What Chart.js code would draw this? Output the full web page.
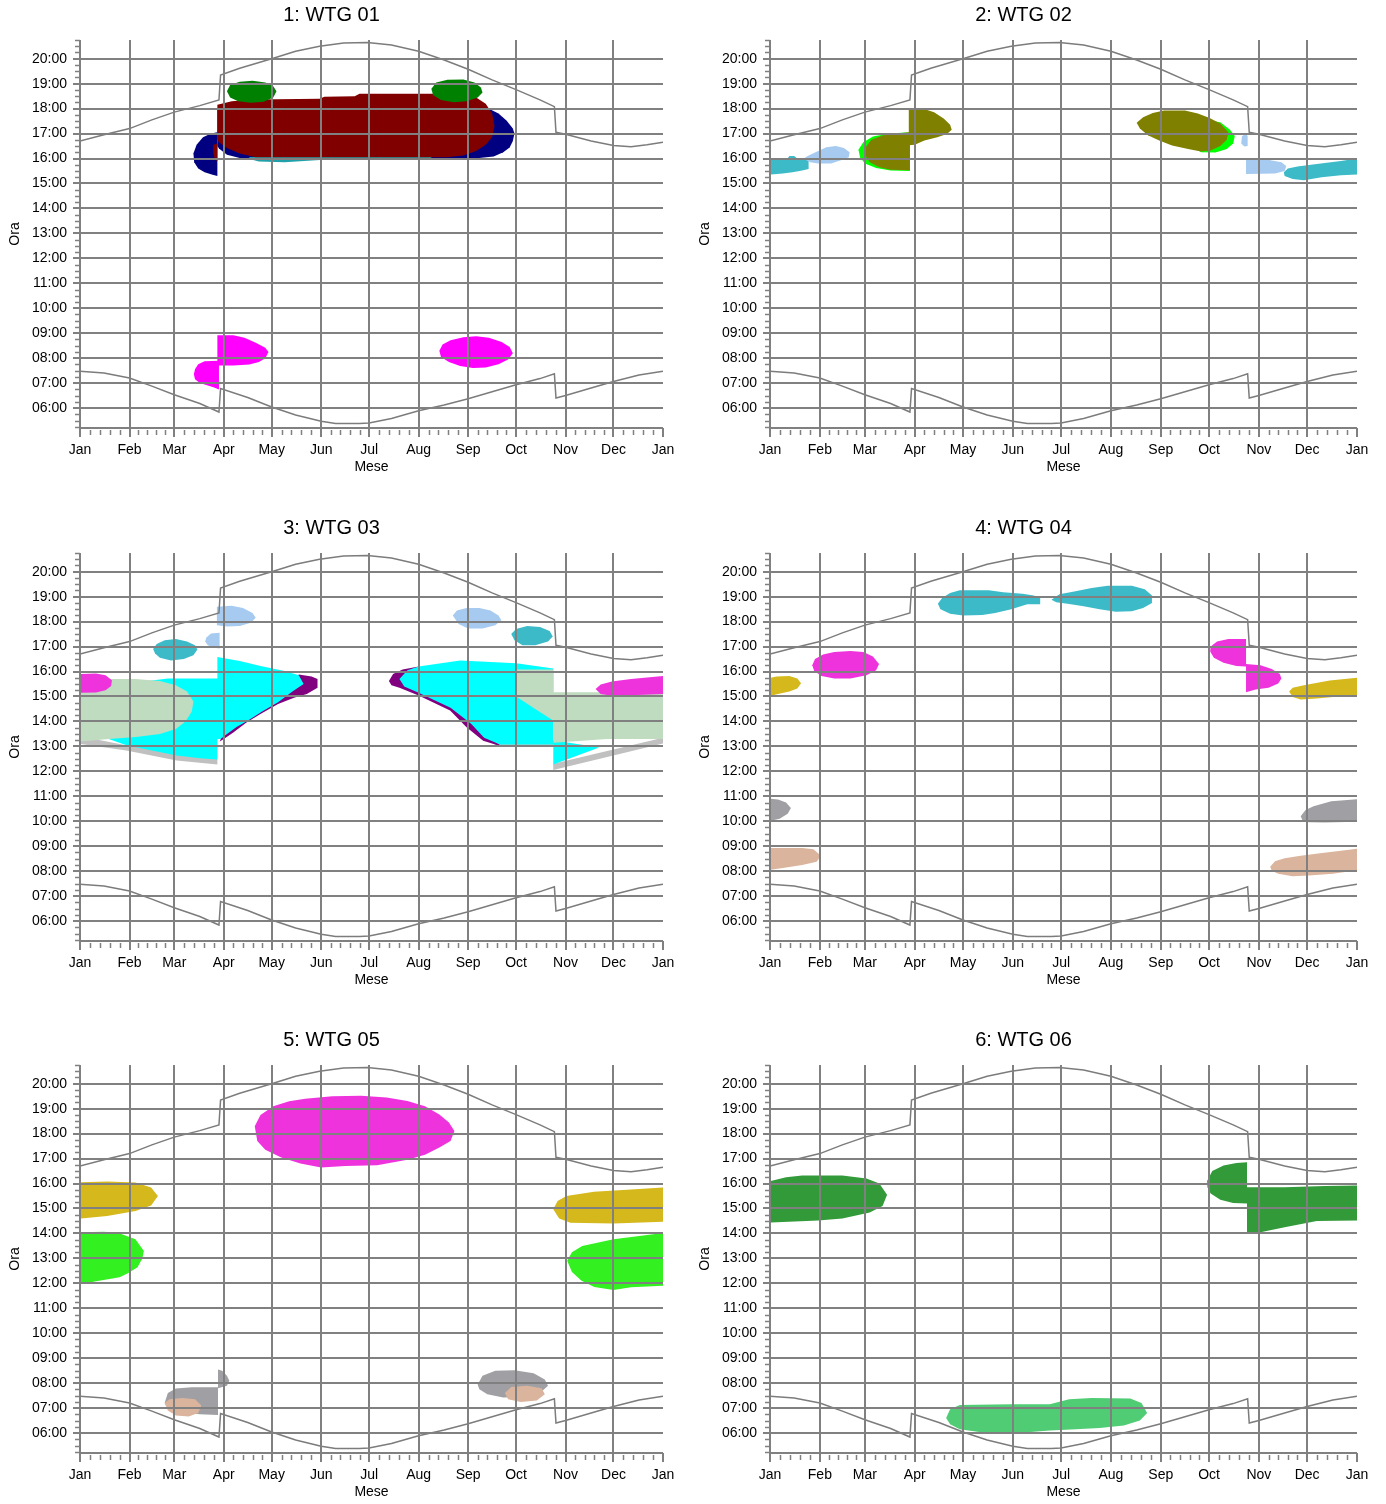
<!DOCTYPE html>
<html>
<head>
<meta charset="utf-8">
<script src="https://cdn.jsdelivr.net/npm/chart.js@4.4.1/dist/chart.umd.min.js"></script>
<style>
  html, body { margin: 0; padding: 0; background: #fff; }
  body { position: relative; width: 1386px; height: 1504px; overflow: hidden; }
  .panel { position: absolute; }
</style>
</head>
<body>
<script>
// axes
const monthLabels = ["Jan", "Feb", "Mar", "Apr", "May", "Jun", "Jul", "Aug", "Sep", "Oct", "Nov", "Dec", "Jan"];
const monthStarts = [0, 31, 59, 90, 120, 151, 181, 212, 243, 273, 304, 334, 365];
const hourTicks = [6, 7, 8, 9, 10, 11, 12, 13, 14, 15, 16, 17, 18, 19, 20];

// sunset / sunrise, [day of year, hour]
const sunset = [[0,16.70],[15,16.95],[31,17.20],[45,17.55],[59,17.86],[75,18.12],[87,18.35],[88,19.35],[100,19.62],[120,20.0],[135,20.3],[150,20.5],[165,20.63],[180,20.65],[195,20.55],[212,20.3],[228,19.95],[243,19.58],[258,19.15],[273,18.76],[288,18.35],[297,18.08],[298,17.05],[304,16.97],[320,16.7],[334,16.52],[345,16.47],[355,16.55],[365,16.65]];
const sunrise = [[0,7.47],[15,7.40],[31,7.20],[45,6.88],[59,6.53],[75,6.18],[87,5.84],[88,6.78],[105,6.42],[120,6.04],[135,5.72],[151,5.47],[160,5.38],[175,5.38],[181,5.40],[195,5.58],[212,5.89],[228,6.12],[243,6.37],[258,6.65],[273,6.93],[288,7.18],[297,7.37],[298,6.40],[304,6.50],[320,6.80],[334,7.06],[350,7.32],[365,7.47]];

// WTG 01
const w1NavyLeft = [[86,17.05],[82,17.0],[77,16.85],[73,16.55],[71,16.2],[71.5,15.85],[74,15.6],[78,15.45],[83,15.35],[86,15.3]];
const w1NavyMain = [[86,18.0],[95,18.15],[110,18.25],[200,18.3],[240,18.25],[252,18.12],[262,17.8],[267,17.52],[271,17.2],[272,17.0],[271,16.7],[269,16.44],[265,16.25],[259,16.08],[250,16.02],[238,16.0],[108,15.98],[100,16.02],[92,16.15],[87,16.4],[86,16.5]];
const w1Teal = [[106,16.06],[220,16.1],[220,15.98],[160,15.98],[128,15.85],[112,15.88],[106,15.98]];
const w1Red = [[86,18.15],[95,18.3],[110,18.37],[150,18.4],[153,18.48],[172,18.5],[175,18.6],[240,18.6],[248,18.45],[254,18.2],[258,17.8],[259.5,17.3],[258,16.85],[254,16.55],[248,16.3],[240,16.12],[230,16.05],[110,16.05],[100,16.2],[92,16.42],[87,16.65],[86,16.75]];
const w1RedSliver = [[83.5,16.55],[86,16.6],[86,15.9],[84.5,15.95],[83.5,16.2]];
const w1GreenA = [[92,18.7],[94,18.95],[100,19.08],[108,19.12],[116,19.05],[121,18.9],[123,18.7],[121,18.45],[115,18.28],[107,18.24],[99,18.3],[94,18.45]];
const w1GreenB = [[220,18.8],[223,19.05],[230,19.16],[240,19.17],[247,19.05],[251,18.85],[252,18.65],[249,18.45],[242,18.3],[234,18.26],[226,18.35],[221,18.55]];
const w1MagA = [[86,8.92],[96,8.92],[103,8.82],[110,8.62],[116,8.42],[118,8.25],[116,8.0],[112,7.85],[106,7.74],[96,7.7],[86,7.7]];
const w1MagB = [[87,7.9],[78,7.88],[74,7.75],[72,7.55],[71.3,7.35],[72,7.15],[75,7.0],[80,6.9],[84,6.82],[87,6.74]];
const w1MagC = [[225,8.3],[227,8.55],[232,8.72],[240,8.84],[248,8.88],[256,8.82],[264,8.65],[269,8.45],[271,8.2],[268,7.95],[262,7.75],[254,7.62],[246,7.6],[238,7.68],[231,7.85],[226,8.05]];

// WTG 02
const w2TealL = [[0.5,15.95],[0.5,15.36],[8,15.4],[14,15.45],[20,15.52],[24,15.58],[24,16.0],[17,16.0],[15,16.1],[12,16.1],[11,16.0]];
const w2BlueL = [[22,16.05],[25,16.15],[30,16.3],[35,16.45],[41,16.5],[46,16.42],[49.5,16.25],[49,16.05],[45,15.95],[38,15.8],[30,15.8],[25,15.85],[22,15.95]];
const w2LimeL = [[87,17.05],[74,17.0],[64,16.88],[58,16.65],[55,16.35],[56,16.05],[59,15.8],[66,15.62],[75,15.52],[87,15.5]];
const w2OliveL = [[87,17.05],[78,17.0],[70,16.92],[63,16.75],[59.5,16.45],[59.5,16.1],[62,15.85],[68,15.65],[75,15.55],[87,15.53]];
const w2OliveM = [[86.3,18.02],[95,18.0],[102,17.85],[108,17.6],[112,17.35],[113,17.15],[110,16.98],[104,16.85],[96,16.72],[90,16.55],[86.3,16.53]];
const w2LimeR = [[265,17.6],[280,17.45],[286,17.15],[289,16.9],[288,16.6],[284,16.38],[277,16.24],[268,16.25],[262,16.5]];
const w2OliveR = [[228,17.43],[232,17.65],[238,17.82],[245,17.92],[258,17.92],[266,17.8],[273,17.63],[280,17.4],[285,17.05],[284,16.75],[280,16.5],[274,16.32],[268,16.28],[260,16.38],[250,16.52],[242,16.72],[235,16.93],[230,17.2]];
const w2BlueDot = [[293.5,16.9],[296,16.98],[297,16.9],[297,16.5],[295,16.48],[293,16.6]];
const w2BlueR = [[296,16.0],[305,16.02],[312,15.92],[318,15.85],[321,15.7],[320,15.5],[314,15.4],[296,15.38]];
const w2TealR = [[319.5,15.45],[322,15.6],[328,15.68],[340,15.78],[355,15.9],[365,16.0],[365,15.36],[355,15.33],[343,15.25],[332,15.13],[325,15.18],[320,15.3]];

// WTG 03
const w3GrayL = [[0.5,13.4],[29,13.05],[60.5,12.7],[86,12.5],[86,12.27],[60.5,12.43],[29,12.83],[0.5,13.1]];
const w3PurpleL = [[137,15.88],[145,15.8],[148.7,15.7],[148.7,15.35],[142,15.1],[134,14.95],[124,14.7],[113,14.3],[104,13.95],[96,13.56],[90,13.3],[87.5,13.2],[90,13.6],[120,15.0],[132,15.6]];
const w3CyanL = [[18,13.3],[29,13.05],[45,12.83],[60.5,12.63],[75,12.52],[86,12.47],[86,13.3],[88,13.3],[92,13.5],[98,13.78],[105,14.03],[114,14.4],[124,14.77],[133,15.2],[140,15.5],[137,15.85],[128,16.02],[113,16.22],[100,16.42],[86,16.58],[86,15.72],[55,15.72],[40,15.6],[25,15.3],[18,14.5]];
const w3SageL = [[0.5,15.65],[20,15.7],[35,15.7],[50,15.62],[60,15.45],[67,15.2],[71,14.8],[70,14.4],[66,14.0],[60,13.7],[50,13.5],[35,13.38],[18,13.3],[0.5,13.2]];
const w3PinkL = [[0.5,15.9],[10,15.92],[16,15.85],[20,15.65],[19.5,15.42],[16,15.25],[10,15.16],[0.5,15.15]];
const w3TealL = [[45.8,16.9],[48,17.1],[53,17.25],[60,17.3],[67,17.2],[72,17.05],[73.5,16.88],[71,16.65],[65,16.5],[57,16.44],[50,16.55],[47,16.72]];
const w3BlueDot = [[87.4,17.55],[82,17.52],[79,17.35],[78.4,17.2],[80,17.05],[84,16.95],[87.4,16.92]];
const w3BlueL = [[85.7,18.6],[95,18.64],[102,18.55],[108,18.35],[110,18.15],[107,17.95],[100,17.82],[92,17.8],[85.7,17.85]];
const w3GrayR1 = [[258,13.15],[296.5,13.15],[296.5,12.98],[262,12.97]];
const w3GrayR2 = [[296.3,12.3],[365,13.35],[365,13.12],[296.3,12.05]];
const w3PurpleR = [[193.4,15.62],[196,15.9],[202,16.08],[212,16.2],[230,14.7],[262,13.1],[265,12.97],[252.4,13.23],[242,13.77],[231.7,14.44],[212,15.04],[200,15.35],[195,15.45]];
const w3CyanR = [[200,15.7],[205,16.05],[212,16.2],[238,16.44],[273,16.33],[296.3,16.12],[296.3,13.25],[325,12.95],[296.3,12.27],[296.3,13.08],[263,13.08],[253,13.35],[245,13.9],[232,14.55],[212,15.15],[203,15.4]];
const w3SageR = [[273,16.08],[296.5,16.08],[296.5,15.17],[365,15.17],[365,13.3],[330,13.3],[296.5,13.15],[296.5,14.03],[285,14.5],[273,15.0]];
const w3PinkR = [[322.8,15.3],[326,15.48],[333,15.6],[345,15.7],[365,15.82],[365,15.1],[345,15.05],[333,15.03],[326,15.1]];
const w3BlueR = [[233.4,18.25],[236,18.45],[242,18.55],[250,18.55],[257,18.45],[262,18.25],[263.8,18.05],[260,17.85],[252,17.72],[243,17.72],[237,17.9]];
const w3TealR = [[270,17.5],[273,17.7],[280,17.82],[288,17.78],[294,17.62],[296,17.4],[293,17.2],[285,17.05],[277,17.05],[272,17.25]];

// WTG 04
const w4YellowL = [[0.5,15.75],[4,15.8],[12,15.82],[17,15.72],[19.3,15.53],[17,15.32],[12,15.2],[5,15.1],[0.5,15.03]];
const w4PinkL = [[26.3,16.25],[28,16.5],[33,16.68],[40,16.78],[50,16.82],[58,16.78],[64,16.6],[67.8,16.3],[66,16.05],[60,15.85],[50,15.72],[40,15.72],[32,15.82],[27.5,16.02]];
const w4TealA = [[104.4,18.72],[107,18.95],[112,19.15],[118,19.26],[136,19.26],[145,19.18],[157,19.12],[164,19.05],[168,18.95],[168,18.7],[160,18.7],[150,18.5],[140,18.35],[132,18.27],[120,18.25],[112,18.32],[106,18.5]];
const w4TealB = [[175,18.88],[180,19.1],[190,19.22],[200,19.35],[210,19.44],[225,19.44],[233,19.3],[237.5,19.05],[237.5,18.75],[232,18.55],[225,18.42],[215,18.4],[205,18.5],[195,18.62],[185,18.72],[178,18.78]];
const w4PinkA = [[296,17.3],[285,17.3],[278,17.2],[274,17.0],[273.7,16.8],[276,16.55],[282,16.35],[290,16.22],[296,16.2]];
const w4PinkB = [[296,16.3],[305,16.25],[312,16.1],[317,15.9],[318,15.72],[316,15.52],[310,15.35],[302,15.28],[296,15.17]];
const w4YellowR = [[322.8,15.2],[325,15.35],[332,15.45],[348,15.64],[365,15.75],[365,15.0],[350,14.98],[340,14.92],[330,14.88],[325,14.98]];
const w4GrayL = [[0.5,10.9],[5,10.87],[10,10.75],[13,10.53],[11,10.3],[6,10.1],[0.5,10.02]];
const w4TanL = [[0.5,8.93],[20,8.93],[27,8.88],[31.7,8.62],[29,8.38],[20,8.25],[10,8.15],[0.5,8.06]];
const w4GrayR = [[330,10.2],[333,10.45],[338,10.6],[349,10.8],[365,10.88],[365,9.98],[345,9.95],[335,9.96],[331,10.05]];
const w4TanR = [[311,8.18],[314,8.4],[320,8.52],[330,8.62],[342,8.72],[355,8.82],[365,8.9],[365,8.04],[350,7.9],[335,7.83],[325,7.8],[316,7.9],[312,8.02]];

// WTG 05
const w5Pink = [[109.4,18.3],[113,18.75],[121,19.1],[131,19.3],[141,19.4],[158,19.5],[176,19.52],[192,19.45],[205,19.31],[216,19.1],[225,18.77],[231,18.45],[234.4,18.1],[232,17.7],[225,17.44],[216,17.15],[205,16.95],[186,16.73],[166,16.7],[151,16.64],[138,16.8],[126,17.04],[116,17.35],[111,17.7]];
const w5YellowL = [[0.5,16.05],[17,16.08],[34.7,16.04],[44.5,15.84],[48.8,15.5],[44.5,15.12],[34.7,14.9],[17,14.7],[0.5,14.6]];
const w5GreenL = [[0.5,14.05],[15,14.07],[25,14.0],[34.7,13.77],[40,13.3],[39,13.0],[36,12.64],[30,12.4],[24.8,12.24],[12,12.1],[0.5,11.97]];
const w5YellowR = [[296.3,14.97],[299,15.3],[304.5,15.5],[321.8,15.67],[345,15.76],[365,15.84],[365,14.47],[334,14.4],[307,14.43],[300,14.6]];
const w5GreenR = [[305,12.9],[308,13.25],[314.4,13.5],[334,13.77],[365,14.02],[365,11.9],[345,11.84],[334,11.73],[322,11.85],[314,12.1],[308,12.45]];
const w5GrayA = [[53,7.2],[55,7.6],[60,7.78],[70,7.84],[86.4,7.84],[86.4,6.72],[75,6.75],[62,6.85],[55,7.0]];
const w5TanA = [[53,7.2],[56,7.35],[64,7.4],[72,7.35],[76,7.1],[74,6.8],[68,6.66],[60,6.7],[55,6.9]];
const w5GrayDot = [[86.4,8.55],[89,8.5],[92,8.3],[93.5,8.1],[92,7.9],[86.4,7.8]];
const w5GrayB = [[249,7.95],[252,8.3],[260,8.5],[272,8.52],[284,8.4],[291,8.15],[293,7.9],[288,7.6],[278,7.45],[265,7.42],[255,7.55],[250,7.75]];
const w5TanB = [[266,7.6],[270,7.85],[280,7.9],[289,7.8],[291,7.55],[286,7.3],[276,7.24],[268,7.35]];

// WTG 06
const w6GreenL = [[0.5,16.1],[10,16.25],[20,16.32],[45,16.32],[60,16.2],[68,16.0],[72.8,15.55],[70,15.1],[62,14.84],[45,14.6],[30,14.52],[0.5,14.44]];
const w6GreenR = [[271.8,16.1],[275,16.5],[282,16.72],[290,16.82],[296.6,16.85],[296.6,15.85],[320,15.85],[345,15.9],[365,15.92],[365,14.52],[340,14.5],[320,14.25],[305,14.05],[296.6,14.0],[296.6,15.2],[288,15.22],[280,15.35],[274,15.6],[272,15.85]];
const w6LightGreen = [[109.5,6.6],[112,6.95],[118,7.12],[150,7.15],[174,7.15],[186,7.35],[200,7.4],[224,7.38],[231,7.2],[234.5,6.8],[230,6.5],[220,6.3],[205,6.2],[190,6.15],[174,6.1],[162,6.04],[130,6.04],[118,6.15],[112,6.35]];

const panels = [
    { title: "1: WTG 01", col: 0, row: 0, blobs: [
        [w1NavyLeft, "#000080"], [w1NavyMain, "#000080"], [w1Teal, "#20a0a8"], [w1Red, "#800000"],
        [w1RedSliver, "#800000"], [w1GreenA, "#008000"], [w1GreenB, "#008000"],
        [w1MagA, "#ff00ff"], [w1MagB, "#ff00ff"], [w1MagC, "#ff00ff"]] },
    { title: "2: WTG 02", col: 1, row: 0, blobs: [
        [w2TealL, "#3cbac8"], [w2BlueL, "#a6caf0"], [w2LimeL, "#00ff00"], [w2OliveL, "#808000"],
        [w2OliveM, "#808000"], [w2LimeR, "#00ff00"], [w2OliveR, "#808000"],
        [w2BlueDot, "#a6caf0"], [w2BlueR, "#a6caf0"], [w2TealR, "#3cbac8"]] },
    { title: "3: WTG 03", col: 0, row: 1, blobs: [
        [w3GrayL, "#c0c0c0"], [w3PurpleL, "#800080"], [w3CyanL, "#00ffff"], [w3SageL, "#c0dcc0"],
        [w3PinkL, "#ee33dd"], [w3TealL, "#3cbac8"], [w3BlueDot, "#a6caf0"], [w3BlueL, "#a6caf0"],
        [w3GrayR1, "#c0c0c0"], [w3GrayR2, "#c0c0c0"], [w3PurpleR, "#800080"], [w3CyanR, "#00ffff"],
        [w3SageR, "#c0dcc0"], [w3PinkR, "#ee33dd"], [w3BlueR, "#a6caf0"], [w3TealR, "#3cbac8"]] },
    { title: "4: WTG 04", col: 1, row: 1, blobs: [
        [w4YellowL, "#d4b81c"], [w4PinkL, "#ee33dd"], [w4TealA, "#3cbac8"], [w4TealB, "#3cbac8"],
        [w4PinkA, "#ee33dd"], [w4PinkB, "#ee33dd"], [w4YellowR, "#d4b81c"],
        [w4GrayL, "#a0a0a4"], [w4TanL, "#dab49c"], [w4GrayR, "#a0a0a4"], [w4TanR, "#dab49c"]] },
    { title: "5: WTG 05", col: 0, row: 2, blobs: [
        [w5Pink, "#ee33dd"], [w5YellowL, "#d4b81c"], [w5GreenL, "#33f020"], [w5YellowR, "#d4b81c"],
        [w5GreenR, "#33f020"], [w5GrayA, "#a0a0a4"], [w5TanA, "#dab49c"], [w5GrayDot, "#a0a0a4"],
        [w5GrayB, "#a0a0a4"], [w5TanB, "#dab49c"]] },
    { title: "6: WTG 06", col: 1, row: 2, blobs: [
        [w6GreenL, "#339a3a"], [w6GreenR, "#339a3a"], [w6LightGreen, "#50cc74"]] }
];

const fontFamily = "'Liberation Sans', Arial, sans-serif";
const gridColor = "#808080";

// grid, axes and ticks drawn over the shaded areas, as in the original
const gridOnTop = {
    id: "gridOnTop",
    afterDatasetsDraw(chart) {
        const { ctx, chartArea: a, scales: { x, y } } = chart;
        ctx.save();
        ctx.strokeStyle = gridColor;
        ctx.lineWidth = 2;
        ctx.beginPath();
        monthStarts.forEach((d, i) => {
            const px = Math.round(x.getPixelForValue(d));
            ctx.moveTo(px, i === monthStarts.length - 1 ? a.bottom : a.top);
            ctx.lineTo(px, a.bottom + 9);
        });
        hourTicks.forEach(h => {
            const py = Math.round(y.getPixelForValue(h));
            ctx.moveTo(a.left - 7, py);
            ctx.lineTo(a.right, py);
        });
        ctx.moveTo(a.left, a.top);
        ctx.lineTo(a.left, a.bottom);
        ctx.moveTo(a.left, a.bottom);
        ctx.lineTo(a.right, a.bottom);
        ctx.stroke();

        ctx.lineWidth = 1.5;
        ctx.beginPath();
        for (let i = 0; i < monthStarts.length - 1; i++) {
            for (let k = 1; k < 5; k++) {
                const d = monthStarts[i] + (monthStarts[i + 1] - monthStarts[i]) * k / 5;
                const px = Math.round(x.getPixelForValue(d)) + 0.5;
                ctx.moveTo(px, a.bottom + 2);
                ctx.lineTo(px, a.bottom + 7);
            }
        }
        for (let q = Math.ceil(y.min * 4); q <= Math.floor(y.max * 4); q++) {
            if (q % 4 === 0) continue;
            const py = Math.round(y.getPixelForValue(q / 4)) + 0.5;
            ctx.moveTo(a.left - 5, py);
            ctx.lineTo(a.left, py);
        }
        ctx.stroke();
        ctx.restore();
    }
};

const toPoints = arr => arr.map(p => ({ x: p[0], y: p[1] }));

panels.forEach(panel => {
    const div = document.createElement("div");
    div.className = "panel";
    div.style.left = (panel.col === 0 ? 0 : 690) + "px";
    div.style.top = [0, 513, 1025][panel.row] + "px";
    const canvas = document.createElement("canvas");
    canvas.width = 693;
    canvas.height = 480;
    div.appendChild(canvas);
    document.body.appendChild(div);

    const datasets = [
        { data: toPoints(sunset), borderColor: "#7c7c7c", borderWidth: 1.5, pointRadius: 0, fill: false, order: 0 },
        { data: toPoints(sunrise), borderColor: "#7c7c7c", borderWidth: 1.5, pointRadius: 0, fill: false, order: 0 }
    ];
    panel.blobs.forEach(([shape, color], i) => {
        datasets.push({
            data: toPoints(shape),
            borderWidth: 0,
            borderColor: color,
            backgroundColor: color,
            pointRadius: 0,
            fill: "shape",
            order: 1000 - i
        });
    });

    new Chart(canvas, {
        type: "line",
        data: { datasets },
        options: {
            responsive: false,
            animation: false,
            events: [],
            layout: { padding: { left: 0, right: panel.col === 0 ? 30 : 26, top: 0, bottom: 0 } },
            plugins: {
                legend: { display: false },
                tooltip: { enabled: false },
                title: {
                    display: true,
                    text: panel.title,
                    color: "#000",
                    font: { family: fontFamily, size: 20, weight: "normal" },
                    padding: { top: 3, bottom: 13 }
                }
            },
            scales: {
                x: {
                    type: "linear",
                    min: 0,
                    max: 365,
                    grid: { display: false, drawTicks: false },
                    border: { display: false },
                    afterBuildTicks: axis => { axis.ticks = monthStarts.map(v => ({ value: v })); },
                    afterFit: scale => { scale.height = 52; },
                    ticks: {
                        autoSkip: false,
                        maxRotation: 0,
                        padding: 14,
                        color: "#000",
                        font: { family: fontFamily, size: 14 },
                        callback: (v, i) => monthLabels[i]
                    },
                    title: {
                        display: true,
                        text: "Mese",
                        color: "#000",
                        font: { family: fontFamily, size: 14 },
                        padding: { top: 0, bottom: 4 }
                    }
                },
                y: {
                    type: "linear",
                    min: 5.2,
                    max: 20.75,
                    grid: { display: false, drawTicks: false },
                    border: { display: false },
                    afterBuildTicks: axis => { axis.ticks = hourTicks.map(v => ({ value: v })); },
                    afterFit: scale => { scale.width = 80; },
                    ticks: {
                        padding: 13,
                        color: "#000",
                        font: { family: fontFamily, size: 14 },
                        callback: v => (v < 10 ? "0" : "") + v + ":00"
                    },
                    title: {
                        display: true,
                        text: "Ora",
                        color: "#000",
                        font: { family: fontFamily, size: 14 },
                        padding: { top: 7, bottom: 0 }
                    }
                }
            }
        },
        plugins: [gridOnTop]
    });
});
</script>
</body>
</html>
